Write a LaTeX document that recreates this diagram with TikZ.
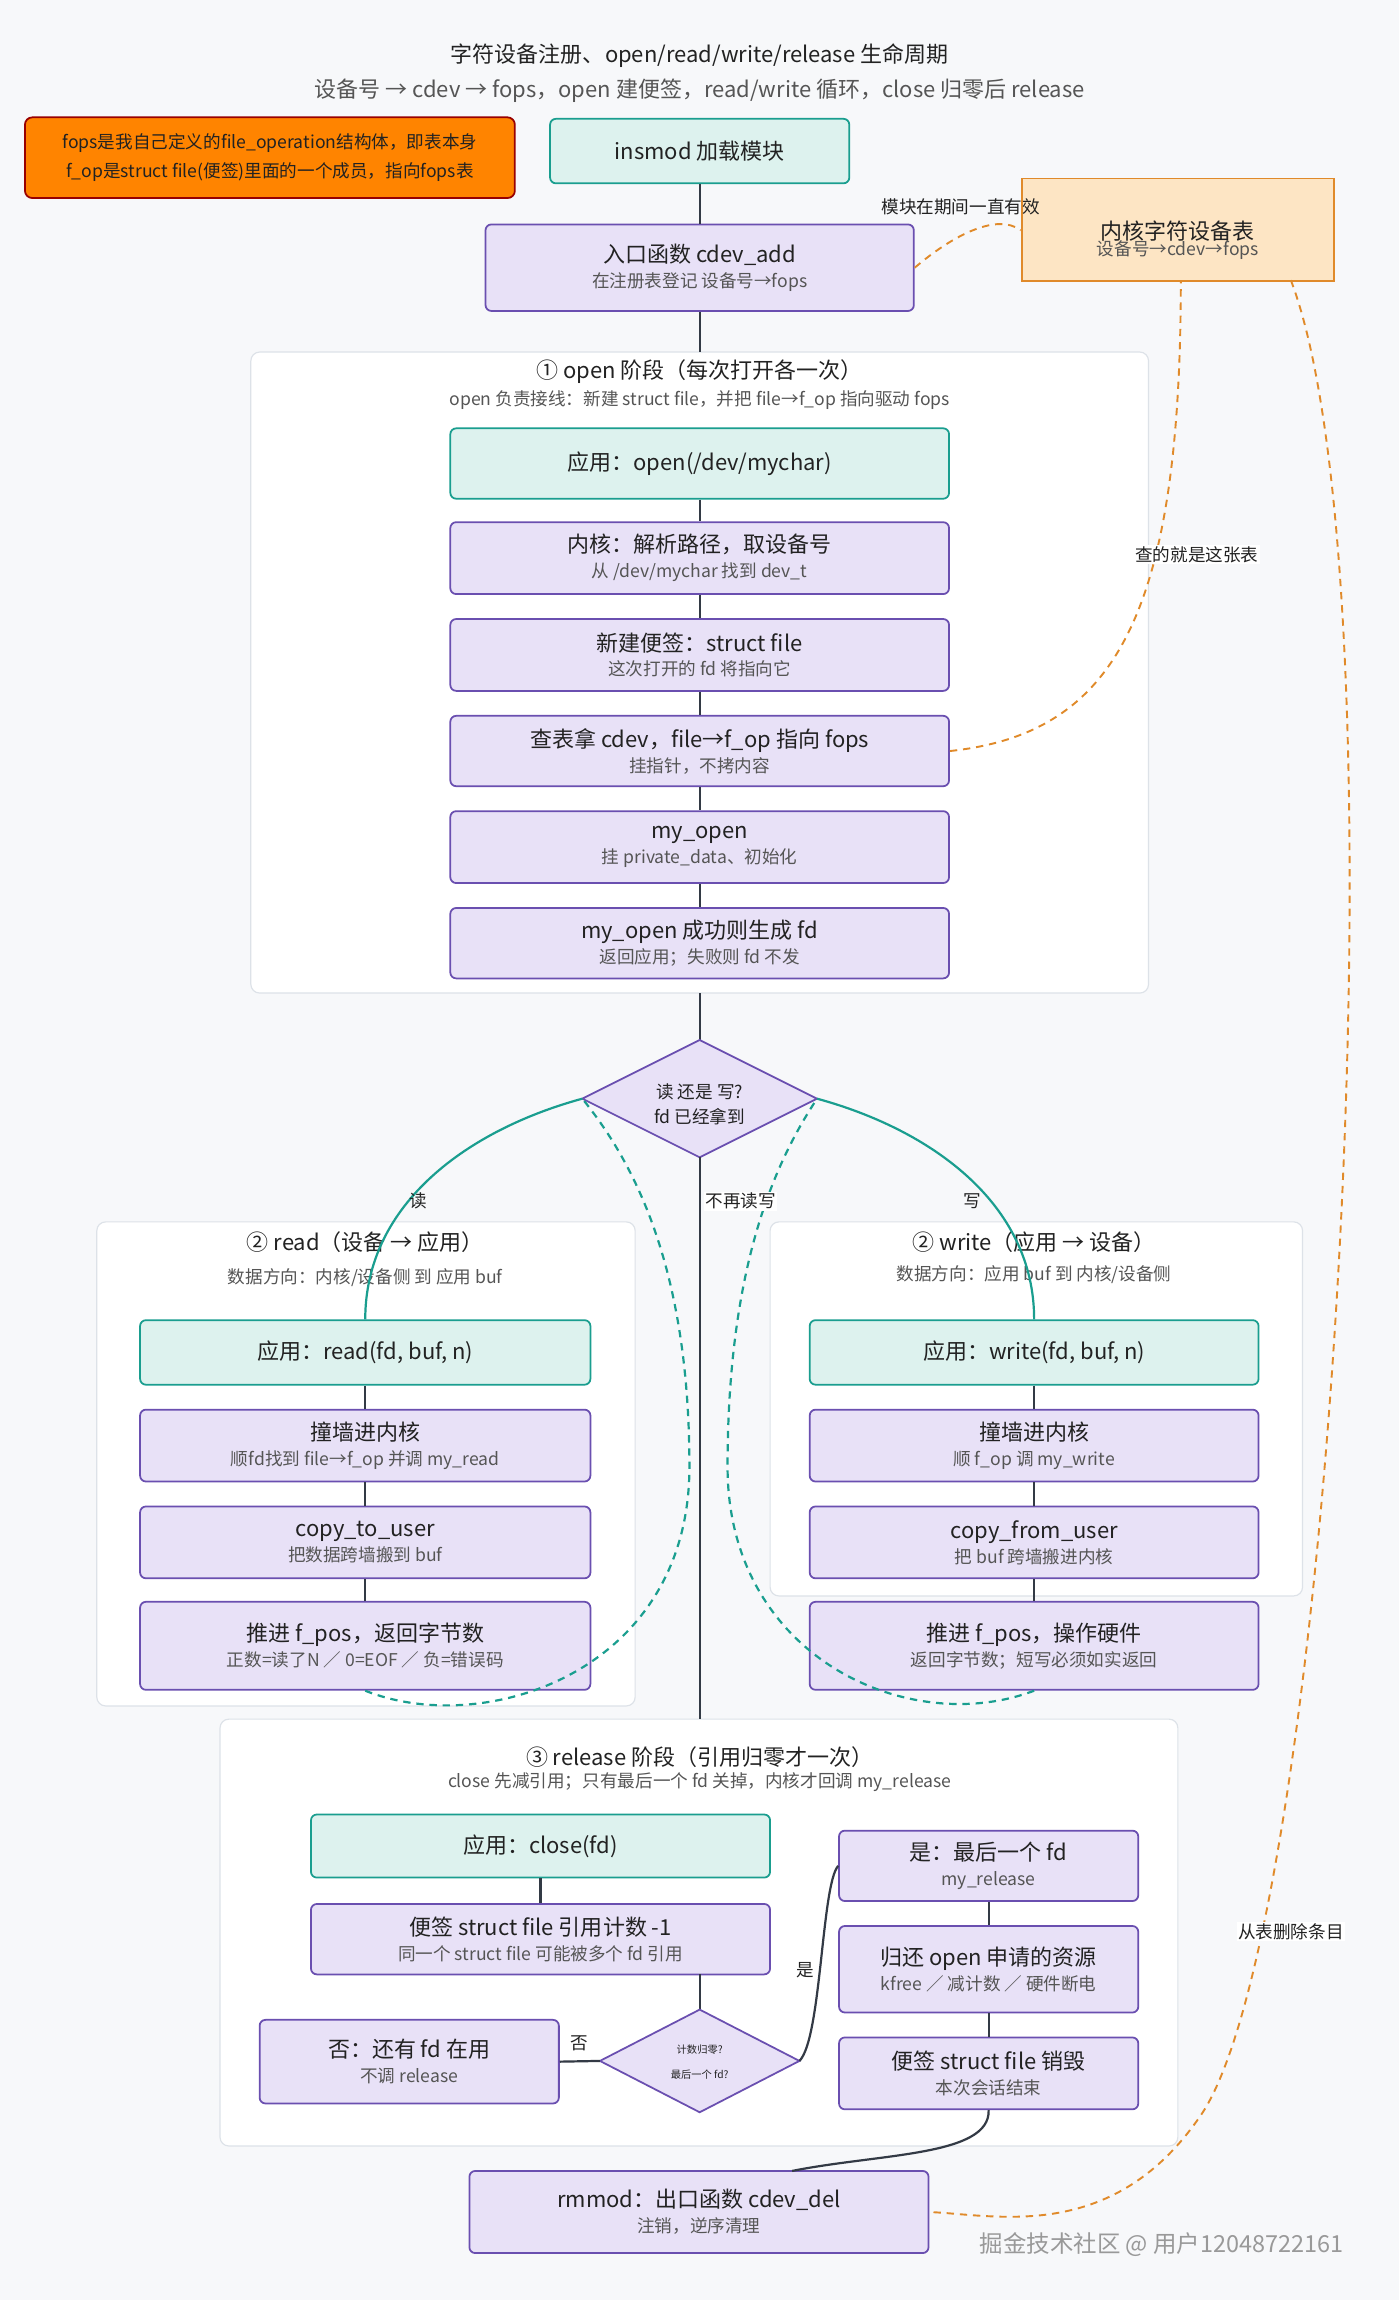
\documentclass[tikz,border=0pt]{standalone}
\usepackage{fontspec}
\setmainfont{Noto Sans CJK SC}
\usetikzlibrary{shapes.geometric}
\definecolor{bg}{HTML}{F7F8FA}
\definecolor{lav}{HTML}{E8E1F7}
\definecolor{lavb}{HTML}{6A4FB0}
\definecolor{tl}{HTML}{DDF2EE}
\definecolor{tlb}{HTML}{1A9E8F}
\definecolor{org}{HTML}{E08A2A}
\definecolor{orgf}{HTML}{FDE5C4}
\definecolor{ln}{HTML}{333A45}
\definecolor{gb}{HTML}{DDE2E8}
\definecolor{tx}{HTML}{222222}
\definecolor{sub}{HTML}{555555}
\newcommand{\tw}[2]{{\fontsize{15}{18}\selectfont #1}\\[-1pt]{\fontsize{12}{14}\selectfont\color{sub}#2}}
\begin{document}
\begin{tikzpicture}[x=1pt,y=-1pt,
 pbox/.style={draw=lavb,fill=lav,line width=1.2pt,rounded corners=4pt,inner sep=0pt,align=center,text=tx,font=\fontsize{15}{18}\selectfont},
 tbox/.style={pbox,draw=tlb,fill=tl},
 grp/.style={draw=gb,fill=white,line width=0.8pt,rounded corners=6pt},
 ln/.style={draw=ln,line width=1.5pt},
 od/.style={draw=org,line width=1.3pt,dash pattern=on 5pt off 4pt},
 tc/.style={draw=tlb,line width=1.5pt},
 td/.style={tc,dash pattern=on 5pt off 4pt},
 lbl/.style={font=\fontsize{12}{14}\selectfont,text=tx,inner sep=1pt}]
\fill[bg] (0,0) rectangle (954,1568);
\useasboundingbox (0,0) rectangle (954,1568);
\node[font=\fontsize{15}{18}\selectfont,text=tx] (title) at (477,38) {字符设备注册、open/read/write/release 生命周期};
\node[font=\fontsize{15}{18}\selectfont,text=sub] (stitle) at (477,62) {设备号 → cdev → fops，open 建便签，read/write 循环，close 归零后 release};
\node[draw=red!60!black,fill=orange!85!yellow!90!red,line width=1.2pt,rounded corners=5pt,minimum width=334pt,minimum height=55pt,align=center,font=\fontsize{12}{20}\selectfont,text=tx] (note) at (184,107.5) {fops是我自己定义的file\_operation结构体，即表本身\\f\_op是struct file(便签)里面的一个成员，指向fops表};
\node[tbox,minimum width=204pt,minimum height=44pt] (insmod) at (477,103) {insmod 加载模块};
\node[pbox,minimum width=292pt,minimum height=59pt] (cadd) at (477,182.5) {\tw{入口函数 cdev\_add}{在注册表登记 设备号→fops}};
\node[cylinder,shape border rotate=90,aspect=0.2,draw=org,fill=orgf,line width=1.3pt,minimum width=213pt,minimum height=70pt,align=center,inner sep=0pt] (tab) at (803,157) {};
\node[align=center,text=tx] (tabt) at (803,164) {\tw{内核字符设备表}{设备号→cdev→fops}};
\draw[ln] (insmod) -- (cadd);
% open group
\draw[grp] (171,240) rectangle (783,677);
\node[font=\fontsize{15}{18}\selectfont,text=tx] (ot) at (477,253) {① open 阶段（每次打开各一次）};
\node[font=\fontsize{12}{14}\selectfont,text=sub] (os) at (477,273) {open 负责接线：新建 struct file，并把 file→f\_op 指向驱动 fops};
\node[tbox,minimum width=340pt,minimum height=48pt] (o1) at (477,316) {应用：open(/dev/mychar)};
\node[pbox,minimum width=340pt,minimum height=49pt] (o2) at (477,380.5) {\tw{内核：解析路径，取设备号}{从 /dev/mychar 找到 dev\_t}};
\node[pbox,minimum width=340pt,minimum height=49pt] (o3) at (477,446.5) {\tw{新建便签：struct file}{这次打开的 fd 将指向它}};
\node[pbox,minimum width=340pt,minimum height=48pt] (o4) at (477,512) {\tw{查表拿 cdev，file→f\_op 指向 fops}{挂指针，不拷内容}};
\node[pbox,minimum width=340pt,minimum height=49pt] (o5) at (477,577.5) {\tw{my\_open}{挂 private\_data、初始化}};
\node[pbox,minimum width=340pt,minimum height=48pt] (o6) at (477,643) {\tw{my\_open 成功则生成 fd}{返回应用；失败则 fd 不发}};
\draw[ln] (cadd) -- (477,240) (o1)--(o2) (o2)--(o3) (o3)--(o4) (o4)--(o5) (o5)--(o6);
% diamond
\coordinate (dT) at (477,709); \coordinate (dB) at (477,789);
\coordinate (dL) at (397,749); \coordinate (dR) at (557,749);
\draw[ln] (477,677) -- (dT);
\filldraw[draw=lavb,fill=lav,line width=1.2pt] (dT)--(dR)--(dB)--(dL)--cycle;
\node[align=center,font=\fontsize{12}{17}\selectfont,text=tx] (dq) at (477,753) {读 还是 写?\\fd 已经拿到};
% read group
\draw[grp] (66,833) rectangle (433,1163);
\node[font=\fontsize{15}{18}\selectfont,text=tx] (rt) at (249,847) {② read（设备 → 应用）};
\node[font=\fontsize{12}{14}\selectfont,text=sub] (rs) at (249,871) {数据方向：内核/设备侧 到 应用 buf};
\node[tbox,minimum width=307pt,minimum height=44pt] (r1) at (249,922) {应用：read(fd, buf, n)};
\node[pbox,minimum width=307pt,minimum height=49pt] (r2) at (249,985.5) {\tw{撞墙进内核}{顺fd找到 file→f\_op 并调 my\_read}};
\node[pbox,minimum width=307pt,minimum height=49pt] (r3) at (249,1051.5) {\tw{copy\_to\_user}{把数据跨墙搬到 buf}};
\node[pbox,minimum width=307pt,minimum height=60pt] (r4) at (249,1122) {\tw{推进 f\_pos，返回字节数}{正数=读了N ／ 0=EOF ／ 负=错误码}};
\draw[ln] (r1)--(r2) (r2)--(r3) (r3)--(r4);
% write group
\draw[grp] (525,833) rectangle (888,1088);
\node[font=\fontsize{15}{18}\selectfont,text=tx] (wt) at (705,847) {② write（应用 → 设备）};
\node[font=\fontsize{12}{14}\selectfont,text=sub] (ws) at (705,869) {数据方向：应用 buf 到 内核/设备侧};
\node[tbox,minimum width=306pt,minimum height=44pt] (w1) at (705,922) {应用：write(fd, buf, n)};
\node[pbox,minimum width=306pt,minimum height=49pt] (w2) at (705,985.5) {\tw{撞墙进内核}{顺 f\_op 调 my\_write}};
\node[pbox,minimum width=306pt,minimum height=49pt] (w3) at (705,1051.5) {\tw{copy\_from\_user}{把 buf 跨墙搬进内核}};
\node[pbox,minimum width=306pt,minimum height=60pt] (w4) at (705,1122) {\tw{推进 f\_pos，操作硬件}{返回字节数；短写必须如实返回}};
\draw[ln] (w1)--(w2) (w2)--(w3) (w3)--(w4);
% read/write curves
\draw[tc] (dL) .. controls (320,770) and (249,820) .. (r1.north);
\node[lbl] (lr) at (285,819) {读};
\draw[tc] (dR) .. controls (634,770) and (705,820) .. (w1.north);
\node[lbl] (lw) at (663,819) {写};
\draw[td] (r4.south) .. controls (330,1185) and (470,1140) .. (470,1000) .. controls (470,860) and (430,790) .. (dL);
\draw[td] (w4.south) .. controls (620,1185) and (496,1130) .. (496,1000) .. controls (496,860) and (530,790) .. (dR);
% release group
\draw[grp] (150,1172) rectangle (803,1463);
\draw[ln] (dB) -- (477,1172);
\node[lbl,fill=white] (lno) at (505,819) {不再读写};
\node[font=\fontsize{15}{18}\selectfont,text=tx] (relt) at (477,1198) {③ release 阶段（引用归零才一次）};
\node[font=\fontsize{12}{14}\selectfont,text=sub] (rels) at (477,1215) {close 先减引用；只有最后一个 fd 关掉，内核才回调 my\_release};
\node[tbox,minimum width=313pt,minimum height=43pt] (c1) at (368.5,1258.5) {应用：close(fd)};
\node[pbox,minimum width=313pt,minimum height=48pt] (c2) at (368.5,1322) {\tw{便签 struct file 引用计数 -1}{同一个 struct file 可能被多个 fd 引用}};
\draw[ln] (c1)--(c2);
\coordinate (eT) at (477,1370); \coordinate (eB) at (477,1440);
\coordinate (eL) at (409,1405); \coordinate (eR) at (545,1405);
\draw[ln] (477,1346) -- (eT);
\filldraw[draw=lavb,fill=lav,line width=1.2pt] (eT)--(eR)--(eB)--(eL)--cycle;
\node[align=center,font=\fontsize{7}{17}\selectfont,text=tx] (eq) at (477,1406) {计数归零?\\最后一个 fd?};
\node[pbox,minimum width=204pt,minimum height=57pt] (no) at (279,1405.5) {\tw{否：还有 fd 在用}{不调 release}};
\draw[ln] (eL) -- (no.east);
\node[lbl] (lnf) at (395,1393) {否};
\node[pbox,minimum width=204pt,minimum height=48pt] (y1) at (674,1272) {\tw{是：最后一个 fd}{my\_release}};
\node[pbox,minimum width=204pt,minimum height=59pt] (y2) at (674,1342.5) {\tw{归还 open 申请的资源}{kfree ／ 减计数 ／ 硬件断电}};
\node[pbox,minimum width=204pt,minimum height=49pt] (y3) at (674,1413.5) {\tw{便签 struct file 销毁}{本次会话结束}};
\draw[ln] (y1)--(y2) (y2)--(y3);
\draw[ln] (eR) .. controls (560,1390) and (560,1285) .. (y1.west);
\node[lbl] (lyes) at (549,1343) {是};
\node[pbox,minimum width=313pt,minimum height=56pt] (rm) at (476.5,1508) {\tw{rmmod：出口函数 cdev\_del}{注销，逆序清理}};
\draw[ln] (y3.south) .. controls (675,1470) and (600,1468) .. (540,1480);
% orange dashed
\draw[od] (cadd.east) .. controls (650,160) and (680,145) .. (tab.west);
\node[lbl] (l1) at (655,141) {模块在期间一直有效};
\draw[od] (o4.east) .. controls (760,500) and (805,420) .. (805,191);
\node[lbl,fill=white] (l2) at (816,378) {查的就是这张表};
\draw[od] (880,191) .. controls (960,400) and (910,1300) .. (820,1440) .. controls (760,1530) and (680,1510) .. (rm.east);
\node[lbl,fill=white] (l3) at (880,1317) {从表删除条目};
\node[font=\fontsize{16}{18}\selectfont,text=black!40] (wm) at (792,1530) {掘金技术社区 @ 用户12048722161};
\end{tikzpicture}
\end{document}
